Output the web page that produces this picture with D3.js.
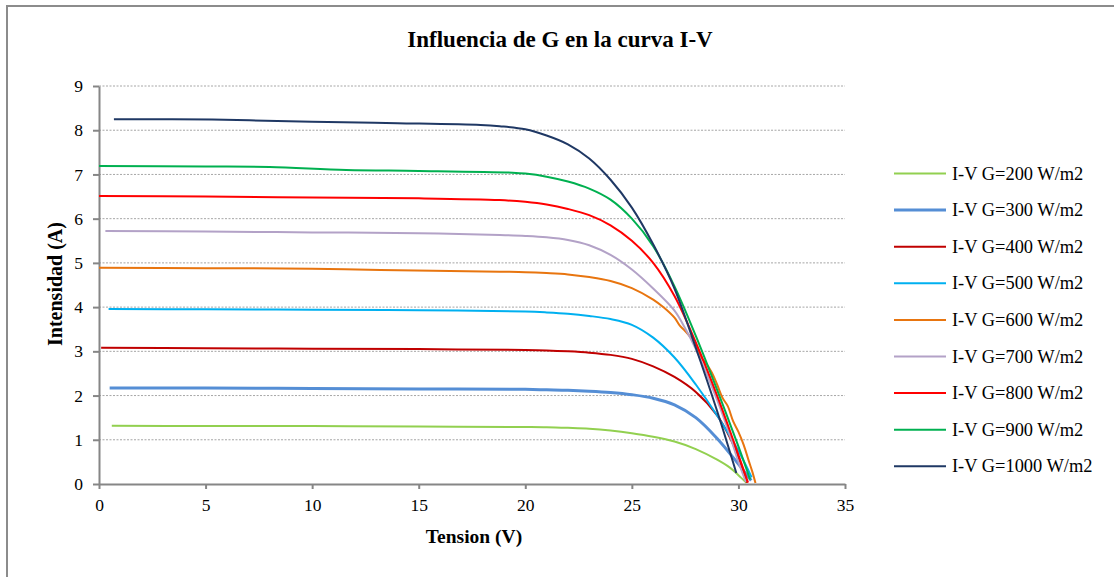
<!DOCTYPE html>
<html><head><meta charset="utf-8">
<script src="https://cdn.jsdelivr.net/npm/d3@7"></script>
<style>
html,body{margin:0;padding:0;background:#fff;}
text{font-family:"Liberation Serif","Times New Roman",serif;}
</style></head>
<body><svg id="c" width="1114" height="577"></svg>
<script>
// ---- data ----
const seriesNames = ["I-V G=200 W/m2","I-V G=300 W/m2","I-V G=400 W/m2","I-V G=500 W/m2","I-V G=600 W/m2","I-V G=700 W/m2","I-V G=800 W/m2","I-V G=900 W/m2","I-V G=1000 W/m2"];
const xTicks = [0,5,10,15,20,25,30,35];
const yTicks = [0,1,2,3,4,5,6,7,8,9];

const v200 = [0.6,5,10,15,20,21,22,23,24,25,26,27,28,29,29.6,30.0,30.38];
const i200 = [1.32,1.31,1.31,1.30,1.29,1.285,1.27,1.25,1.21,1.15,1.07,0.96,0.79,0.55,0.37,0.2,0.03];

const v300 = [0.5,5,10,15,20,21,22,23,24,25,26,27,28,29,30,30.6];
const i300 = [2.17,2.17,2.16,2.15,2.14,2.13,2.12,2.10,2.07,2.02,1.94,1.79,1.5,1.03,0.45,0.08];

const v400 = [0.1,5,10,15,20,21,22,23,24,25,26,27,28,29,29.6,30.0,30.4];
const i400 = [3.08,3.07,3.06,3.05,3.03,3.02,3.0,2.97,2.92,2.83,2.66,2.42,2.08,1.55,1.05,0.6,0.03];

const v500 = [0.45,5,10,15,20,21,22,23,24,25,26,27,28,29,30,30.62];
const i500 = [3.96,3.95,3.94,3.93,3.90,3.88,3.85,3.80,3.73,3.6,3.31,2.86,2.25,1.55,0.75,0.15];

const v600 = [0,5,10,13.2,18.8,20,21,22,23,24,25,26,26.5,27,27.25,27.5,27.75,28,28.25,28.5,28.75,29,29.25,29.5,29.75,30,30.25,30.5,30.65,30.8];
const i600 = [4.89,4.88,4.87,4.84,4.80,4.79,4.77,4.74,4.68,4.59,4.43,4.17,3.99,3.76,3.58,3.46,3.32,3.12,2.86,2.72,2.52,2.25,1.95,1.76,1.42,1.18,0.88,0.5,0.28,0.02];

const v700 = [0.3,5,10,15,18.8,20,21,22,23,24,25,26,27,27.5,28,29,29.6,30.0,30.35];
const i700 = [5.72,5.71,5.69,5.67,5.63,5.61,5.58,5.52,5.40,5.18,4.85,4.42,3.92,3.52,3.05,1.9,1.1,0.5,0.05];

const v800 = [0,5,10,15,18.8,20,21,22,23,24,25,26,27,28,29,29.75,30.45];
const i800 = [6.51,6.50,6.48,6.46,6.42,6.38,6.32,6.22,6.08,5.85,5.5,5.0,4.25,3.2,2.0,1.0,0.03];

const v900 = [0,5,8,11.6,15,19.4,20,21,22,23,24,25,26,27,28,29,30,30.55];
const i900 = [7.19,7.18,7.17,7.10,7.08,7.04,7.02,6.95,6.84,6.68,6.43,6.0,5.38,4.47,3.35,2.13,0.85,0.1];

const v1000 = [0.7,5.3,10,14,17.9,18.8,20,21,22,23,24,25,26,27,28,29,29.9];
const i1000 = [8.25,8.24,8.19,8.16,8.12,8.09,8.02,7.88,7.68,7.36,6.88,6.25,5.42,4.42,3.08,1.65,0.25];

const voltages = [v200,v300,v400,v500,v600,v700,v800,v900,v1000];
const currents = [i200,i300,i400,i500,i600,i700,i800,i900,i1000];

// ---- styles ----
const colors = ["#92D050","#558ED5","#C00000","#00B0F0","#E8750F","#B3A2C7","#FF0000","#00B050","#1F3864"];
const widths = [2,3,2,2,2,2,2,2,2];

const svg = d3.select("#c");
svg.append("rect").attr("x",7).attr("y",6).attr("width",1120).attr("height",600)
  .attr("fill","#fff").attr("stroke","#8c8c8c").attr("stroke-width",2);

const m = {l:99, r:845, t:86, b:484};
const x = d3.scaleLinear().domain([0,35]).range([m.l,m.r]);
const y = d3.scaleLinear().domain([0,9]).range([m.b,m.t]);

// gridlines
svg.append("g").selectAll("line").data(yTicks.filter(d=>d>0)).join("line")
  .attr("x1",m.l).attr("x2",m.r).attr("y1",d=>y(d)).attr("y2",d=>y(d))
  .attr("stroke","#a6a6a6").attr("stroke-width",1).attr("stroke-dasharray","2,1.5");

// axes
const yAxis = svg.append("g").attr("transform",`translate(${m.l},0)`)
  .call(d3.axisLeft(y).tickValues(yTicks).tickSize(6).tickPadding(10).tickSizeOuter(0));
const xAxis = svg.append("g").attr("transform",`translate(0,${m.b})`)
  .call(d3.axisBottom(x).tickValues(xTicks).tickSize(5).tickPadding(10).tickSizeOuter(0));
[xAxis,yAxis].forEach(a=>{
  a.attr("font-family",null);
  a.select(".domain").attr("stroke","#868686").attr("stroke-width",2);
  a.selectAll(".tick line").attr("stroke","#868686").attr("stroke-width",2);
  a.selectAll(".tick text").attr("fill","#000").style("font-size","17.5px")
    .style("font-family","'Liberation Serif','Times New Roman',serif");
});

// lines
const line = d3.line().x(d=>x(d[0])).y(d=>y(d[1])).curve(d3.curveCatmullRom.alpha(0.5));
const series = seriesNames.map((n,k)=>({name:n, pts: voltages[k].map((v,j)=>[v,currents[k][j]]), color:colors[k], w:widths[k]}));
svg.append("g").selectAll("path").data(series).join("path")
  .attr("d",d=>line(d.pts)).attr("fill","none")
  .attr("stroke",d=>d.color).attr("stroke-width",d=>d.w).attr("stroke-linejoin","round");

// title & labels
svg.append("text").attr("x",560).attr("y",47).attr("text-anchor","middle")
  .style("font-size","23px").style("font-weight","bold").text("Influencia de G en la curva I-V");
svg.append("text").attr("x",474).attr("y",543).attr("text-anchor","middle")
  .style("font-size","19.5px").style("font-weight","bold").text("Tension (V)");
svg.append("text").attr("transform","translate(62,284) rotate(-90)").attr("text-anchor","middle")
  .style("font-size","20px").style("font-weight","bold").text("Intensidad (A)");

// legend
const lg = svg.append("g");
series.forEach((s,k)=>{
  const yy = 173.5 + k*36.6;
  lg.append("line").attr("x1",894).attr("x2",946).attr("y1",yy).attr("y2",yy)
    .attr("stroke",s.color).attr("stroke-width",s.w);
  lg.append("text").attr("x",952).attr("y",yy+6).style("font-size","18.4px").text(s.name);
});
</script></body></html>
